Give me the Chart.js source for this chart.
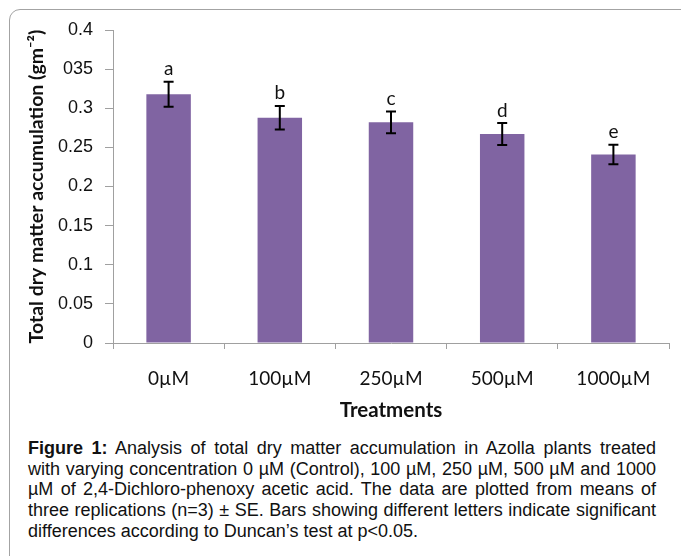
<!DOCTYPE html>
<html>
<head>
<meta charset="utf-8">
<script src="https://cdn.jsdelivr.net/npm/chart.js@4/dist/chart.umd.min.js"></script>
<style>
  html, body { margin: 0; padding: 0; background: #fff; width: 681px; height: 556px; overflow: hidden; }
  #frame {
    position: absolute; left: 9px; top: 9px; width: 740px; height: 640px;
    border: 1px solid #a3a3a3; border-radius: 11px; box-sizing: border-box;
  }
  #plot { position: absolute; left: 0; top: 0; }
  #caption {
    position: absolute; left: 28px; top: 438px; width: 628px;
    font-family: "Liberation Sans", Arial, sans-serif; font-size: 18px; line-height: 20.7px; color: #111;
  }
  #caption .ln { text-align: justify; text-align-last: justify; }
  #caption .ln.last { text-align-last: left; }
</style>
</head>
<body>
<div id="frame"></div>
<canvas id="plot" width="681" height="430"></canvas>
<div id="caption">
  <div class="ln"><b>Figure 1:</b> Analysis of total dry matter accumulation in Azolla plants treated</div>
  <div class="ln">with varying concentration 0 µM (Control), 100 µM, 250 µM, 500 µM and 1000</div>
  <div class="ln">µM of 2,4-Dichloro-phenoxy acetic acid. The data are plotted from means of</div>
  <div class="ln">three replications (n=3) ± SE. Bars showing different letters indicate significant</div>
  <div class="ln last">differences according to Duncan’s test at p&lt;0.05.</div>
</div>
<script>
// Treatments (2,4-D concentration) and measured dry matter, mean ± SE
const categories = ['0µM', '100µM', '250µM', '500µM', '1000µM'];
const dryMatter = [0.318, 0.288, 0.282, 0.267, 0.241];
const standardError = [0.016, 0.015, 0.014, 0.014, 0.0125];
const duncanGroups = ['a', 'b', 'c', 'd', 'e'];
const yTickLabels = ['0', '0.05', '0.1', '0.15', '0.2', '0.25', '0.3', '035', '0.4'];

const AXIS_GREY = '#a0a0a0';

// Draws the ±SE whiskers and the significance letters above each bar
const errorBarsAndLetters = {
  id: 'errorBarsAndLetters',
  afterDatasetsDraw(chart) {
    const { ctx, scales: { y } } = chart;
    const meta = chart.getDatasetMeta(0);
    ctx.save();
    ctx.strokeStyle = '#000';
    ctx.lineWidth = 2;
    ctx.fillStyle = '#111';
    ctx.font = '19px Lato, "Open Sans", sans-serif';
    ctx.textAlign = 'center';
    ctx.textBaseline = 'alphabetic';
    meta.data.forEach((bar, i) => {
      const top = y.getPixelForValue(dryMatter[i] + standardError[i]);
      const bottom = y.getPixelForValue(dryMatter[i] - standardError[i]);
      const x = bar.x;
      ctx.beginPath();
      ctx.moveTo(x, top); ctx.lineTo(x, bottom);
      ctx.moveTo(x - 5, top); ctx.lineTo(x + 5, top);
      ctx.moveTo(x - 5, bottom); ctx.lineTo(x + 5, bottom);
      ctx.stroke();
      ctx.fillText(duncanGroups[i], x, top - 6.5);
    });
    ctx.restore();
  }
};

new Chart(document.getElementById('plot'), {
  type: 'bar',
  data: {
    labels: categories,
    datasets: [{
      data: dryMatter,
      backgroundColor: '#8064a2',
      borderWidth: 0,
      categoryPercentage: 1,
      barPercentage: 0.4
    }]
  },
  options: {
    responsive: false,
    devicePixelRatio: 1,
    animation: false,
    layout: { padding: { left: 23, right: 12, top: 30, bottom: 3 } },
    plugins: { legend: { display: false }, tooltip: { enabled: false } },
    scales: {
      x: {
        grid: { drawOnChartArea: false, drawTicks: true, tickLength: 6, offset: true, color: AXIS_GREY },
        border: { color: AXIS_GREY },
        ticks: { color: '#111', padding: 18, font: { family: 'Lato, "Open Sans", sans-serif', size: 19 } },
        title: {
          display: true, text: 'Treatments', color: '#111',
          font: { family: 'Lato, "Open Sans", sans-serif', size: 20.5, weight: 'bold' },
          padding: { top: 0, bottom: 4 }
        },
        afterFit(scale) { scale.height = 84; }
      },
      y: {
        min: 0, max: 0.4,
        grid: { drawOnChartArea: false, drawTicks: true, tickLength: 8, color: AXIS_GREY },
        border: { color: AXIS_GREY },
        ticks: {
          stepSize: 0.05, color: '#111', padding: 12,
          font: { family: '"Liberation Sans", Arial, sans-serif', size: 18 },
          callback: (value, index) => yTickLabels[index]
        },
        title: {
          display: true, text: 'Total dry matter accumulation (gm⁻²)', color: '#111',
          font: { family: 'Lato, "Open Sans", sans-serif', size: 19.5, weight: 'bold' },
          padding: { top: 2, bottom: 0 }
        },
        afterFit(scale) { scale.width = 90; }
      }
    }
  },
  plugins: [errorBarsAndLetters]
});
</script>
</body>
</html>
